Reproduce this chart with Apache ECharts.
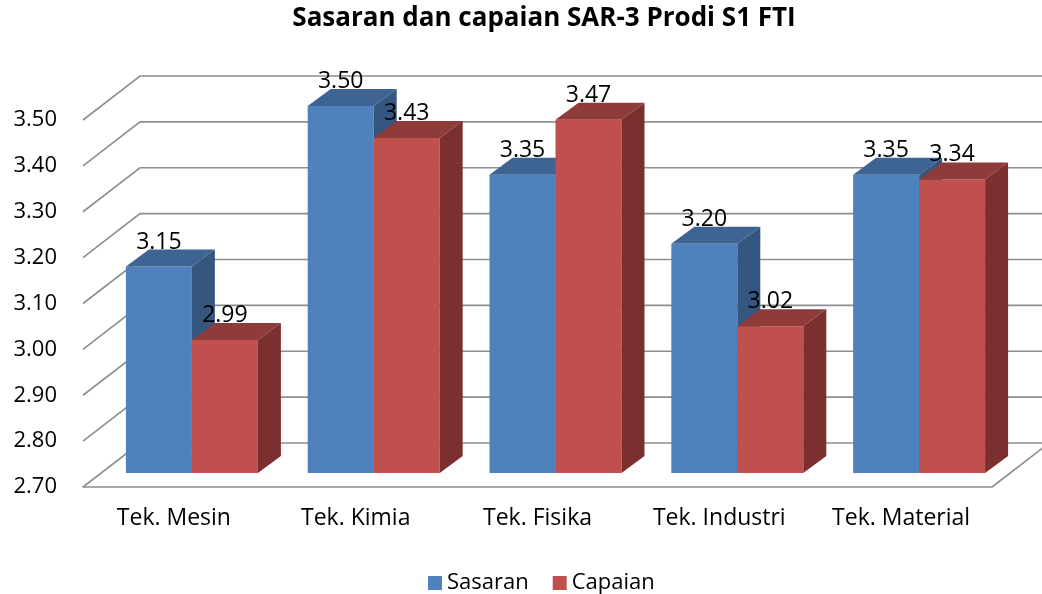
<!DOCTYPE html>
<html>
<head>
<meta charset="utf-8">
<script src="https://cdn.jsdelivr.net/npm/echarts@6/dist/echarts.min.js"></script>
<style>
  html, body { margin: 0; padding: 0; background: #fff; }
  #chart { width: 1042px; height: 594px; }
</style>
</head>
<body>
<div id="chart"></div>
<script>
const categories = ["Tek. Mesin", "Tek. Kimia", "Tek. Fisika", "Tek. Industri", "Tek. Material"];
const sasaran = [3.15, 3.5, 3.35, 3.2, 3.35];
const capaian = [2.99, 3.43, 3.47, 3.02, 3.34];
const gridValues = [2.7, 2.8, 2.9, 3.0, 3.1, 3.2, 3.3, 3.4, 3.5];

const Y_MIN = 2.7;
const Y_MAX = 3.5;
// 3D look: full depth of the box, and where the bars sit inside it
const DEPTH = [57, -44];
const FRONT = [18, -14];
const BACK = [41, -31];
const BAR_FRAC = 0.363;
const FONT = '"Open Sans", sans-serif';

const chart = echarts.init(document.getElementById("chart"));

function gridRenderer(params, api) {
  const v = api.value(1);
  const cs = params.coordSys;
  const y = api.coord([0, v])[1];
  const xl = cs.x;
  const xr = cs.x + cs.width;
  const lineStyle = { stroke: "#8e8e8e", lineWidth: 1.6, fill: null };
  const children = [
    {
      type: "polyline",
      shape: { points: [[xl, y], [xl + DEPTH[0], y + DEPTH[1]], [xr + DEPTH[0], y + DEPTH[1]]] },
      style: lineStyle,
    },
  ];
  if (v === Y_MIN) {
    children.push({
      type: "line",
      shape: { x1: xr, y1: y, x2: xr + DEPTH[0], y2: y + DEPTH[1] },
      style: lineStyle,
    });
  }
  return { type: "group", children };
}

function barRenderer(left, colors) {
  return function (params, api) {
    const cat = api.value(0);
    const val = api.value(1);
    const top = api.coord([cat, val]);
    const base = api.coord([cat, Y_MIN]);
    const w = api.size([1, 0])[0] * BAR_FRAC;
    const x0 = top[0] + (left ? -w : 0) + FRONT[0];
    const x1 = x0 + w;
    const yT = top[1] + FRONT[1];
    const yB = base[1] + FRONT[1];
    const dx = BACK[0] - FRONT[0];
    const dy = BACK[1] - FRONT[1];
    return {
      type: "group",
      children: [
        {
          type: "polygon",
          shape: { points: [[x0, yT], [x1, yT], [x1, yB], [x0, yB]] },
          style: { fill: colors[0] },
        },
        {
          type: "polygon",
          shape: { points: [[x0, yT], [x0 + dx, yT + dy], [x1 + dx, yT + dy], [x1, yT]] },
          style: { fill: colors[1] },
        },
        {
          type: "polygon",
          shape: { points: [[x1, yT], [x1 + dx, yT + dy], [x1 + dx, yB + dy], [x1, yB]] },
          style: { fill: colors[2] },
        },
        {
          type: "text",
          style: {
            text: val.toFixed(2),
            x: (x0 + x1) / 2,
            y: yT + dy + 4,
            align: "center",
            verticalAlign: "bottom",
            fontSize: 23,
            fontFamily: FONT,
            fill: "#000",
          },
        },
      ],
    };
  };
}

const option = {
  animation: false,
  backgroundColor: "#fff",
  title: {
    text: "Sasaran dan capaian SAR-3 Prodi S1 FTI",
    left: 539,
    textAlign: "center",
    top: 1,
    textStyle: { fontFamily: FONT, fontSize: 26, fontWeight: "bold", color: "#000" },
  },
  legend: {
    data: ["Sasaran", "Capaian"],
    left: 423,
    top: 567,
    icon: "rect",
    itemWidth: 14,
    itemHeight: 14,
    itemGap: 24,
    textStyle: { fontFamily: FONT, fontSize: 22, color: "#000" },
  },
  grid: { left: 83, right: 50, top: 120, bottom: 107 },
  xAxis: {
    type: "category",
    data: categories,
    axisTick: { show: false },
    axisLine: { show: true, lineStyle: { color: "#8e8e8e", width: 1.6 } },
    axisLabel: { margin: 20, fontFamily: FONT, fontSize: 23, color: "#000" },
  },
  yAxis: {
    type: "value",
    min: Y_MIN,
    max: Y_MAX,
    interval: 0.1,
    axisLine: { show: false },
    axisTick: { show: false },
    splitLine: { show: false },
    axisLabel: {
      margin: 26,
      fontFamily: FONT,
      fontSize: 22,
      color: "#000",
      formatter: (v) => v.toFixed(2),
    },
  },
  series: [
    {
      name: "grid",
      type: "custom",
      silent: true,
      z: 1,
      renderItem: gridRenderer,
      encode: { x: 0, y: 1 },
      data: gridValues.map((v) => [0, v]),
    },
    {
      name: "Sasaran",
      type: "custom",
      z: 2,
      itemStyle: { color: "#4F81BD" },
      renderItem: barRenderer(true, ["#4F81BD", "#3E6494", "#35577F"]),
      encode: { x: 0, y: 1 },
      data: sasaran.map((v, i) => [i, v]),
    },
    {
      name: "Capaian",
      type: "custom",
      z: 3,
      itemStyle: { color: "#C0504D" },
      renderItem: barRenderer(false, ["#C0504D", "#8F3B39", "#7A302F"]),
      encode: { x: 0, y: 1 },
      data: capaian.map((v, i) => [i, v]),
    },
  ],
};

chart.setOption(option);
window.addEventListener("resize", () => chart.resize());
</script>
</body>
</html>
